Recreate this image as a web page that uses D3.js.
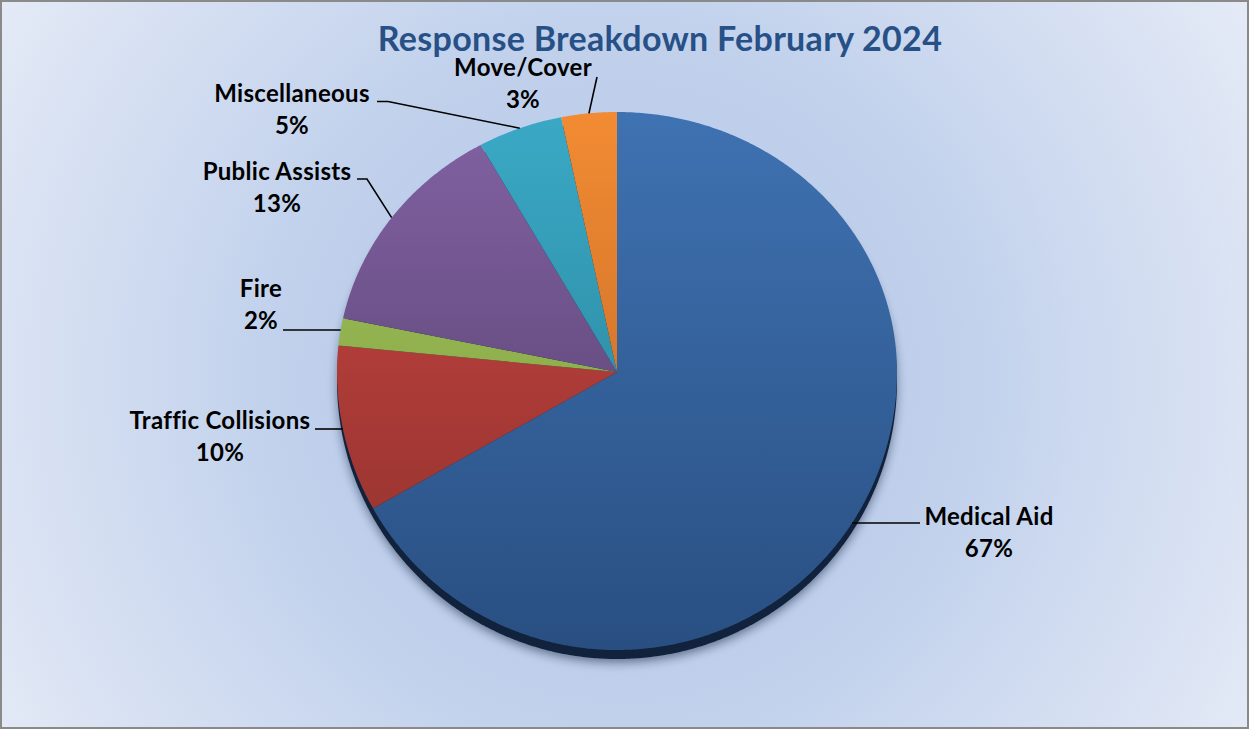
<!DOCTYPE html>
<html>
<head>
<meta charset="utf-8">
<script src="https://cdn.jsdelivr.net/npm/d3@7"></script>
<style>
  html, body { margin: 0; padding: 0; background: #fff; }
  svg { display: block; }
</style>
</head>
<body>
<svg id="chart" width="1249" height="729"></svg>
<script>
// ---- data ----
const title = "Response Breakdown February 2024";
const categories = ["Medical Aid", "Traffic Collisions", "Fire", "Public Assists", "Miscellaneous", "Move/Cover"];
const values = [66.9, 9.8, 1.7, 13.6, 4.9, 3.2];
const pctLabels = ["67%", "10%", "2%", "13%", "5%", "3%"];
const colorsTop = ["#3f72b2", "#cc4642", "#a0c25c", "#8262a3", "#3aa9c6", "#f28b33"];
const colorsBottom = ["#294f82", "#8c302c", "#7d9c3e", "#4f3b66", "#277a8f", "#b86322"];

// ---- layout (not data) ----
const W = 1249, H = 729;
const cx = 617, cy = 372, rx = 280, ryTop = 260, ryBot = 278, depth = 9;
// label layout: centre x, baseline of first line, leader points from label side, leader mode
const labelLayout = [
  { x: 989, y: 525, pts: [[920, 523]], mode: "horizontal" },
  { x: 220, y: 429, pts: [[315, 429]], mode: "horizontal" },
  { x: 261, y: 297, pts: [[283, 330]], mode: "horizontal" },
  { x: 277, y: 180, pts: [[357, 179], [367, 179]], mode: "mid" },
  { x: 292, y: 102, pts: [[377, 101.5], [388, 101.5]], mode: "mid" },
  { x: 523, y: 76, pts: [[597, 77]], mode: "mid" }
];
const lineGap = 32;

const svg = d3.select("#chart");
const defs = svg.append("defs");

// background
const bg = defs.append("radialGradient").attr("id", "bg")
  .attr("gradientUnits", "userSpaceOnUse")
  .attr("cx", 620).attr("cy", 380).attr("r", 760);
bg.append("stop").attr("offset", 0).attr("stop-color", "#b3c6e7");
bg.append("stop").attr("offset", 0.45).attr("stop-color", "#c1d1ec");
bg.append("stop").attr("offset", 1).attr("stop-color", "#e7ecf7");
svg.append("rect").attr("x", 0).attr("y", 0).attr("width", W).attr("height", H).attr("fill", "url(#bg)");
svg.append("rect").attr("x", 1).attr("y", 1).attr("width", W - 2).attr("height", H - 2)
  .attr("fill", "none").attr("stroke", "#8a8a8a").attr("stroke-width", 2);

// slice gradients
categories.forEach((c, i) => {
  const g = defs.append("linearGradient").attr("id", "g" + i)
    .attr("gradientUnits", "userSpaceOnUse")
    .attr("x1", 0).attr("y1", cy - ryTop).attr("x2", 0).attr("y2", cy + ryBot);
  g.append("stop").attr("offset", 0).attr("stop-color", colorsTop[i]);
  g.append("stop").attr("offset", 1).attr("stop-color", colorsBottom[i]);
});

const blur = defs.append("filter").attr("id", "blur").attr("x", "-20%").attr("y", "-20%").attr("width", "140%").attr("height", "140%");
blur.append("feGaussianBlur").attr("stdDeviation", 5);

// projection of a unit-circle angle (clockwise from 12 o'clock) to the tilted pie
function pt(a, dy = 0) {
  const x = Math.sin(a), y = -Math.cos(a);
  return [cx + rx * x, cy + dy + (y < 0 ? ryTop : ryBot) * y];
}
function outline(a0, a1, dy = 0, withCenter = true) {
  const n = Math.max(2, Math.ceil((a1 - a0) / (Math.PI / 360)));
  const pts = d3.range(n + 1).map(k => pt(a0 + (a1 - a0) * k / n, dy));
  if (withCenter) pts.unshift([cx, cy + dy]);
  return d3.line()(pts) + "Z";
}

const arcs = d3.pie().sort(null).value(d => d).startAngle(0).endAngle(2 * Math.PI)(values);

// shadow and edge
svg.append("path").attr("d", outline(0, 2 * Math.PI, depth + 4, false))
  .attr("fill", "rgba(30,45,75,0.55)").attr("filter", "url(#blur)");
svg.append("path").attr("d", outline(0, 2 * Math.PI, depth, false)).attr("fill", "#11223d");

// slices
svg.append("g").selectAll("path").data(arcs).join("path")
  .attr("d", d => outline(d.startAngle, d.endAngle))
  .attr("fill", (d, i) => `url(#g${i})`);

// leaders
const leaderG = svg.append("g");
arcs.forEach((d, i) => {
  const L = labelLayout[i];
  let anchor;
  if (L.mode === "horizontal") {
    const y = L.pts[L.pts.length - 1][1];
    const ry = y > cy ? ryBot : ryTop;
    const u = (y - cy) / ry;
    const side = Math.sin((d.startAngle + d.endAngle) / 2) >= 0 ? 1 : -1;
    anchor = [cx + side * rx * Math.sqrt(Math.max(0, 1 - u * u)), y];
  } else {
    anchor = pt((d.startAngle + d.endAngle) / 2);
  }
  leaderG.append("path").attr("d", d3.line()([...L.pts, anchor]))
    .attr("fill", "none").attr("stroke", "#000").attr("stroke-width", 1.6);
});

// labels
const lab = svg.append("g").attr("font-family", "Lato, 'Open Sans', sans-serif")
  .attr("font-weight", 700).attr("font-size", 24).attr("letter-spacing", 0.3)
  .attr("fill", "#000").attr("text-anchor", "middle");
categories.forEach((c, i) => {
  const L = labelLayout[i];
  lab.append("text").attr("x", L.x).attr("y", L.y).text(c);
  lab.append("text").attr("x", L.x).attr("y", L.y + lineGap).text(pctLabels[i]);
});

// title
svg.append("text").attr("x", 660).attr("y", 51).attr("text-anchor", "middle")
  .attr("font-family", "Lato, 'Open Sans', sans-serif").attr("font-weight", 700)
  .attr("font-size", 34).attr("letter-spacing", 0.3).attr("fill", "#275186").text(title);
</script>
</body>
</html>
